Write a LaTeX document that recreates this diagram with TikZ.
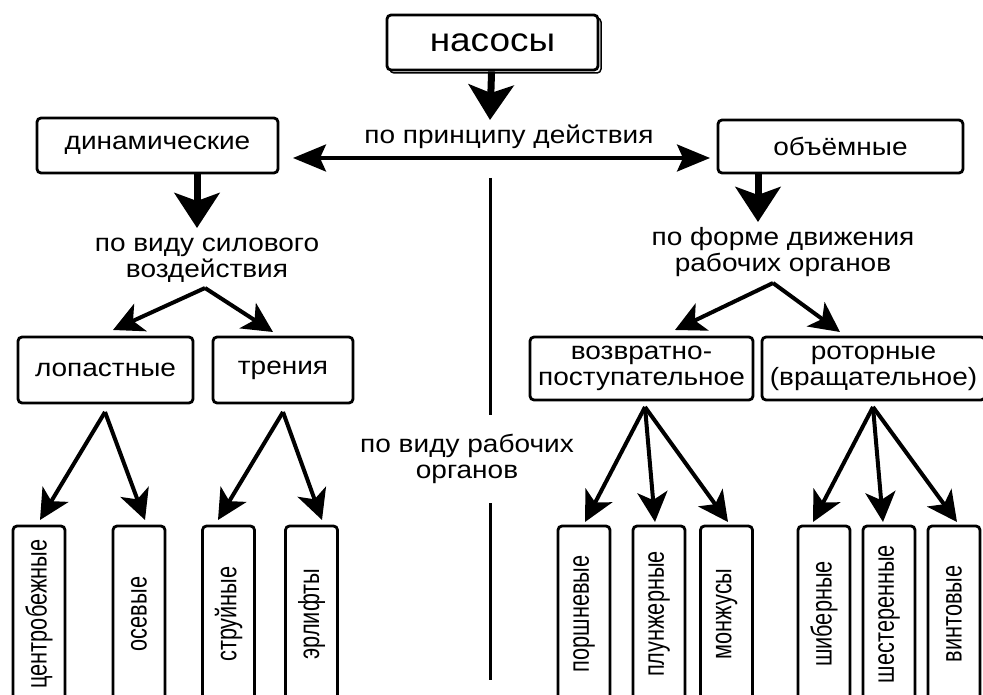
\documentclass[tikz,border=0pt]{standalone}
\usepackage{fontspec}
\setmainfont[FakeStretch=1.12]{Liberation Sans}
\newfontfamily\narrowfont[FakeStretch=0.75]{Liberation Sans}
\usetikzlibrary{arrows.meta,shadows}

\begin{document}
\begin{tikzpicture}[x=1pt, y=-1pt,
	box/.style={draw, line width=2.8pt, rounded corners=4pt, fill=white, inner sep=0pt, align=center, font=\fontsize{25}{26}\selectfont},
	vbox/.style={box, rotate=90, minimum width=176pt, minimum height=52pt, font=\narrowfont\fontsize{29}{30}\selectfont},
	txt/.style={align=center, inner sep=0pt, font=\fontsize{25}{26}\selectfont},
	bigarrow/.style={line width=7pt, -{Stealth[length=35pt, width=45pt, inset=8pt]}},
	sidearrow/.style={line width=3.2pt, {Stealth[length=33pt, width=27pt, inset=6pt]}-{Stealth[length=33pt, width=27pt, inset=6pt]}},
	fanarrow/.style={line width=4pt, -{Stealth[length=30pt, width=30pt, inset=8pt]}}]
		\useasboundingbox (0, 0) rectangle (983, 695);
		\clip (0, 0) rectangle (983, 695);

		\node [box, minimum width=211pt, minimum height=55pt, font=\fontsize{33}{34}\selectfont, copy shadow={shadow xshift=3pt, shadow yshift=-3pt, line width=1.5pt}] (0) at (492.5, 42.5) {насосы};
		\node [] (1) at (490, 120) {};
		\node [txt] (2) at (509, 137) {по принципу действия};
		\node [box, minimum width=241pt, minimum height=55pt] (3) at (157.5, 145.5) {динамические};
		\node [box, minimum width=245pt, minimum height=53pt] (4) at (840.5, 146.5) {объёмные};
		\node [] (5) at (293, 158) {};
		\node [] (6) at (710, 158) {};
		\node [] (7) at (197, 228) {};
		\node [] (8) at (758, 222) {};
		\node [txt] (9) at (207, 260) {по виду силового\\воздействия};
		\node [txt] (10) at (783, 252) {по форме движения\\рабочих органов};
		\node [] (11) at (205, 288) {};
		\node [] (12) at (113, 330) {};
		\node [] (13) at (273, 332) {};
		\node [] (14) at (773, 283) {};
		\node [] (15) at (675, 330) {};
		\node [] (16) at (840, 332) {};
		\node [box, minimum width=175pt, minimum height=66pt] (17) at (105.5, 370) {лопастные};
		\node [box, minimum width=140pt, minimum height=66pt] (18) at (283, 370) {трения};
		\node [box, minimum width=223pt, minimum height=63pt] (19) at (641.5, 368.5) {возвратно-\\поступательное};
		\node [box, minimum width=223pt, minimum height=63pt] (20) at (873.5, 368.5) {роторные\\(вращательное)};
		\node [] (21) at (490, 178) {};
		\node [] (22) at (490, 415) {};
		\node [] (23) at (490, 503) {};
		\node [] (24) at (490, 680) {};
		\node [txt] (25) at (467, 459) {по виду рабочих\\органов};
		\node [] (26) at (105, 412) {};
		\node [] (27) at (40, 520) {};
		\node [] (28) at (145, 520) {};
		\node [] (29) at (283, 412) {};
		\node [] (30) at (218, 520) {};
		\node [] (31) at (322, 520) {};
		\node [] (32) at (645, 407) {};
		\node [] (33) at (585, 522) {};
		\node [] (34) at (655, 522) {};
		\node [] (35) at (728, 522) {};
		\node [] (36) at (873, 407) {};
		\node [] (37) at (813, 522) {};
		\node [] (38) at (883, 522) {};
		\node [] (39) at (957, 522) {};
		\node [vbox] (40) at (39, 614) {центробежные};
		\node [vbox] (41) at (139, 614) {осевые};
		\node [vbox] (42) at (228.5, 614) {струйные};
		\node [vbox] (43) at (311.5, 614) {эрлифты};
		\node [vbox] (44) at (584, 614) {поршневые};
		\node [vbox] (45) at (659, 614) {плунжерные};
		\node [vbox] (46) at (726.5, 614) {монжусы};
		\node [vbox] (47) at (824, 614) {шиберные};
		\node [vbox] (48) at (889, 614) {шестеренные};
		\node [vbox] (49) at (954, 614) {винтовые};

		\draw [bigarrow] (0) to (1.center);
		\draw [bigarrow] (3.south -| 7.center) to (7.center);
		\draw [bigarrow] (4.south -| 8.center) to (8.center);
		\draw [sidearrow] (5.center) to (6.center);
		\draw [line width=3pt] (21.center) to (22.center);
		\draw [line width=3pt] (23.center) to (24.center);
		\draw [fanarrow] (11.center) to (12.center);
		\draw [fanarrow] (11.center) to (13.center);
		\draw [fanarrow] (14.center) to (15.center);
		\draw [fanarrow] (14.center) to (16.center);
		\draw [fanarrow] (26.center) to (27.center);
		\draw [fanarrow] (26.center) to (28.center);
		\draw [fanarrow] (29.center) to (30.center);
		\draw [fanarrow] (29.center) to (31.center);
		\draw [fanarrow] (32.center) to (33.center);
		\draw [fanarrow] (32.center) to (34.center);
		\draw [fanarrow] (32.center) to (35.center);
		\draw [fanarrow] (36.center) to (37.center);
		\draw [fanarrow] (36.center) to (38.center);
		\draw [fanarrow] (36.center) to (39.center);
\end{tikzpicture}
\end{document}
